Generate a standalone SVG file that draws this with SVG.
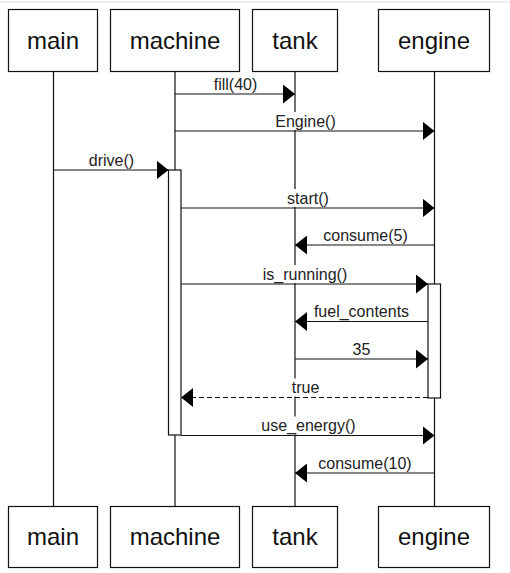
<svg xmlns="http://www.w3.org/2000/svg" width="510" height="573" viewBox="0 0 510 573">
  <style>
    .box { fill: #fff; stroke: #111; stroke-width: 1.2; }
    .life { stroke: #111; stroke-width: 1.2; fill: none; }
    .act { fill: #fff; stroke: #111; stroke-width: 1.2; }
    .name { font-family: "Liberation Sans", Arial, sans-serif; font-size: 24px; fill: #111; text-anchor: middle; }
    .msg { stroke: #111; stroke-width: 1.2; fill: none; marker-end: url(#head); }
    .ret { stroke-dasharray: 5 3; }
    .lbl { font-family: "Liberation Sans", Arial, sans-serif; font-size: 16px; fill: #222; text-anchor: middle; }
    .lblbg { fill: #fff; stroke: none; }
  </style>
  <defs>
    <marker id="head" markerUnits="userSpaceOnUse" markerWidth="12" markerHeight="19" refX="12" refY="9.5" orient="auto">
      <path d="M0,0 L12,9.5 L0,19 Z" fill="#000" stroke="none"/>
    </marker>
  </defs>

  <rect width="510" height="573" fill="#fff"/>
  <line x1="0" y1="2" x2="510" y2="2" stroke="#dcdcdc" stroke-width="1"/>

  <!-- lifelines with head and foot boxes -->
  <g id="main">
    <line class="life" x1="53.5" y1="71" x2="53.5" y2="506"/>
    <rect class="box" x="8.5" y="9.5" width="89" height="62"/>
    <text class="name" x="53" y="49">main</text>
    <rect class="box" x="8.5" y="506.5" width="89" height="61"/>
    <text class="name" x="53" y="545">main</text>
  </g>
  <g id="machine">
    <line class="life" x1="175" y1="71" x2="175" y2="506"/>
    <rect class="box" x="110.5" y="9.5" width="129" height="62"/>
    <text class="name" x="175" y="49">machine</text>
    <rect class="box" x="110.5" y="506.5" width="129" height="61"/>
    <text class="name" x="175" y="545">machine</text>
    <rect class="act" x="168.5" y="170" width="12.5" height="265"/>
  </g>
  <g id="tank">
    <line class="life" x1="295" y1="71" x2="295" y2="506"/>
    <rect class="box" x="252.5" y="9.5" width="85" height="62"/>
    <text class="name" x="295" y="49">tank</text>
    <rect class="box" x="252.5" y="506.5" width="85" height="61"/>
    <text class="name" x="295" y="545">tank</text>
  </g>
  <g id="engine">
    <line class="life" x1="434.5" y1="71" x2="434.5" y2="506"/>
    <rect class="box" x="378.5" y="9.5" width="111" height="62"/>
    <text class="name" x="434" y="49">engine</text>
    <rect class="box" x="378.5" y="506.5" width="111" height="61"/>
    <text class="name" x="434" y="545">engine</text>
    <rect class="act" x="428" y="284" width="12.5" height="114"/>
  </g>

  <!-- messages -->
  <g id="connectors">
    <line class="msg" x1="175" y1="94" x2="295" y2="94"/>
    <line class="msg" x1="175" y1="131" x2="434.5" y2="131"/>
    <line class="msg" x1="53.5" y1="170" x2="168.5" y2="170"/>
    <line class="msg" x1="181" y1="208" x2="434.5" y2="208"/>
    <line class="msg" x1="434.5" y1="245" x2="295" y2="245"/>
    <line class="msg" x1="181" y1="284" x2="428" y2="284"/>
    <line class="msg" x1="428" y1="321.5" x2="295" y2="321.5"/>
    <line class="msg" x1="295" y1="359" x2="428" y2="359"/>
    <line class="msg ret" x1="428" y1="397.5" x2="181" y2="397.5"/>
    <line class="msg" x1="181" y1="435.5" x2="434.5" y2="435.5"/>
    <line class="msg" x1="434.5" y1="473" x2="295" y2="473"/>

    <g id="labels">
      <rect class="lblbg" x="212" y="75" width="47" height="18"/>
      <text class="lbl" x="235.5" y="89.5">fill(40)</text>
      <rect class="lblbg" x="274" y="112" width="64" height="18"/>
      <text class="lbl" x="305.5" y="126.5">Engine()</text>
      <rect class="lblbg" x="87" y="151" width="49" height="18"/>
      <text class="lbl" x="111.5" y="165.5">drive()</text>
      <rect class="lblbg" x="285" y="189" width="47" height="18"/>
      <text class="lbl" x="308" y="203.5">start()</text>
      <rect class="lblbg" x="320" y="226" width="91" height="18"/>
      <text class="lbl" x="365.5" y="240.5">consume(5)</text>
      <rect class="lblbg" x="260" y="265" width="90" height="18"/>
      <text class="lbl" x="305" y="279.5">is_running()</text>
      <rect class="lblbg" x="311" y="302.5" width="101" height="18"/>
      <text class="lbl" x="361.5" y="317">fuel_contents</text>
      <rect class="lblbg" x="351" y="340" width="21" height="18"/>
      <text class="lbl" x="361.5" y="354.5">35</text>
      <rect class="lblbg" x="289" y="378.5" width="32" height="18"/>
      <text class="lbl" x="305.5" y="393">true</text>
      <rect class="lblbg" x="259" y="416.5" width="100" height="18"/>
      <text class="lbl" x="308.5" y="431">use_energy()</text>
      <rect class="lblbg" x="316" y="454" width="99" height="18"/>
      <text class="lbl" x="365" y="468.5">consume(10)</text>
    </g>
  </g>
</svg>
